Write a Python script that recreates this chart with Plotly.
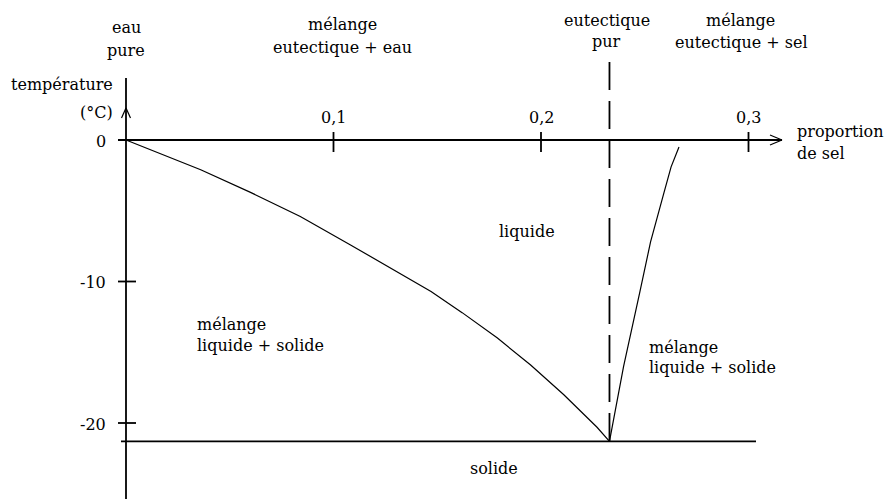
import plotly.graph_objects as go

# liquidus on the water side (freezing point of brine)
ice_x = [0, 0.036, 0.060, 0.084, 0.108, 0.132, 0.147, 0.162, 0.179, 0.195, 0.211, 0.227, 0.233]
ice_T = [0, -2.1, -3.7, -5.4, -7.4, -9.4, -10.7, -12.2, -14.0, -15.9, -18.0, -20.3, -21.3]

# liquidus on the salt side (solubility)
salt_x = [0.233, 0.2398, 0.2477, 0.2528, 0.2593, 0.2627, 0.2665]
salt_T = [-21.3, -16.0, -10.7, -7.2, -3.7, -1.9, -0.5]

eutectic_x = 0.233
eutectic_T = -21.3

x_ticks = [0.1, 0.2, 0.3]
x_tick_labels = ["0,1", "0,2", "0,3"]
y_ticks = [0, -10, -20]
y_tick_labels = ["0", "-10", "-20"]

# pixel scale of the drawing: 207.5 px per 0.1, 14.15 px per degree
sx = 2075.0
sy = 14.15
x_range = [-126 / sx, (889 - 126) / sx]
y_range = [-(499 - 140) / sy, 140 / sy]

FONT = dict(family="DejaVu Serif", size=16, color="black")

fig = go.Figure()

fig.add_trace(go.Scatter(x=ice_x, y=ice_T, mode="lines",
                         line=dict(color="black", width=1.2)))
fig.add_trace(go.Scatter(x=salt_x, y=salt_T, mode="lines",
                         line=dict(color="black", width=1.2)))

shapes = []


def seg(x0, y0, x1, y1, w=1.8, dash="solid"):
    shapes.append(dict(type="line", x0=x0, y0=y0, x1=x1, y1=y1, xref="x", yref="y",
                       line=dict(color="black", width=w, dash=dash)))


# axes
seg(0, 62 / sy, 0, y_range[0])
seg(-8 / sx, 0, 656 / sx, 0)
# arrow heads
seg(-4.5 / sx, 1.55, 0, 2.26, w=1.2)
seg(4.5 / sx, 1.55, 0, 2.26, w=1.2)
seg(644 / sx, 0.35, 656 / sx, 0, w=1.2)
seg(644 / sx, -0.35, 656 / sx, 0, w=1.2)
# ticks
for t in x_ticks:
    seg(t, 8 / sy, t, -12 / sy)
for t in y_ticks[1:]:
    seg(-8 / sx, t, 10 / sx, t)
# eutectic line and pure eutectic composition
seg(-5 / sx, eutectic_T, 630 / sx, eutectic_T)
seg(eutectic_x, 78 / sy, eutectic_x, eutectic_T, w=1.8, dash="28px,11px")

annotations = []


def label(text, x, y, xanchor="center"):
    annotations.append(dict(text=text, x=x, y=y, xref="x", yref="y", showarrow=False,
                            xanchor=xanchor, yanchor="middle", font=FONT))


for t, s in zip(x_ticks, x_tick_labels):
    label(s, t, 1.6)
for t, s in zip(y_ticks, y_tick_labels):
    label(s, -18 / sx, t - 0.1, xanchor="right")

label("eau", 0, 7.92)
label("pure", 0, 6.36)
label("mélange", 0.1041, 8.13)
label("eutectique + eau", 0.1041, 6.57)
label("eutectique", 0.2318, 8.48)
label("pur", 0.2318, 6.93)
label("mélange", 0.296, 8.48)
label("eutectique + sel", 0.2964, 6.86)
label("température", -0.0053, 3.89, xanchor="right")
label("(°C)", -0.0053, 1.91, xanchor="right")
label("proportion", 0.3224, 0.57, xanchor="left")
label("de sel", 0.3224, -0.92, xanchor="left")
label("liquide", 0.1933, -6.5)
label("mélange", 0.0333, -13.07, xanchor="left")
label("liquide + solide", 0.0333, -14.49, xanchor="left")
label("mélange", 0.2511, -14.63, xanchor="left")
label("liquide + solide", 0.2511, -16.11, xanchor="left")
label("solide", 0.1648, -23.25, xanchor="left")

fig.update_layout(
    width=889, height=499,
    margin=dict(l=0, r=0, t=0, b=0),
    paper_bgcolor="white", plot_bgcolor="white",
    showlegend=False,
    xaxis=dict(range=x_range, visible=False, fixedrange=True),
    yaxis=dict(range=y_range, visible=False, fixedrange=True),
    shapes=shapes,
    annotations=annotations,
)

fig.write_html("out.html", config={"displayModeBar": False},
               post_script="document.body.style.margin='0';")
